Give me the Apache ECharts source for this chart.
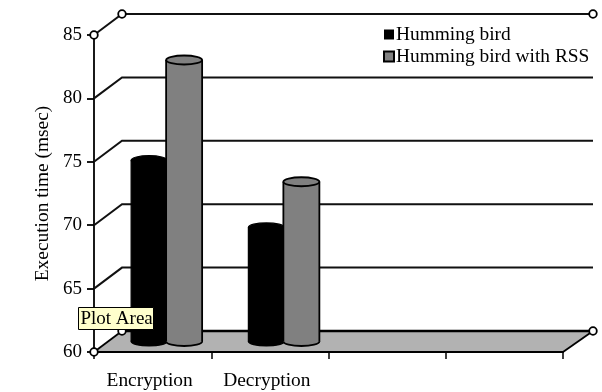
<!DOCTYPE html>
<html>
<head>
<meta charset="utf-8">
<style>html,body{margin:0;padding:0;background:#fff}#chart{width:602px;height:392px}</style>
<script src="https://cdn.jsdelivr.net/npm/echarts@6/dist/echarts.min.js"></script>
</head>
<body>
<div id="chart"></div>
<script>
// Execution times in milliseconds
const categories = ['Encryption', 'Decryption', '', ''];
const hummingBird = [74.3, 69];
const hummingBirdRss = [82.2, 72.6];
const wallLevels = [60, 65, 70, 75, 80, 85];
const ringLevels = [60, 85];

// Oblique projection of the chart box
const DEPTH_X = 28, DEPTH_Y = -21;
const SERIF = '"Liberation Serif", "Times New Roman", serif';
const INK = '#000';
const GREY = '#808080';
const FLOOR = '#b2b2b2';

const chart = echarts.init(document.getElementById('chart'));

// Cylinder standing half way into the depth of the box
function cylinder(side, fill, outline) {
  return function (params, api) {
    const idx = api.value(0);
    const top = api.coord([idx, api.value(1)]);
    const base = api.coord([idx, 60]);
    const cx = top[0] + DEPTH_X / 2 + side * 17.5;
    const yTop = top[1] + DEPTH_Y / 2;
    const yBase = base[1] + DEPTH_Y / 2;
    const rx = 18, ry = 4.5;
    const stroke = { stroke: INK, lineWidth: outline };
    return {
      type: 'group',
      children: [
        { type: 'ellipse', shape: { cx, cy: yBase, rx, ry }, style: { fill, ...stroke } },
        { type: 'rect', shape: { x: cx - rx, y: yTop, width: rx * 2, height: yBase - yTop }, style: { fill } },
        { type: 'line', shape: { x1: cx - rx, y1: yTop, x2: cx - rx, y2: yBase }, style: stroke },
        { type: 'line', shape: { x1: cx + rx, y1: yTop, x2: cx + rx, y2: yBase }, style: stroke },
        { type: 'ellipse', shape: { cx, cy: yTop, rx, ry }, style: { fill, ...stroke } }
      ]
    };
  };
}

// Side and back wall line for one axis level
function wallLine(params, api) {
  const y = api.coord([0, api.value(1)])[1];
  const x0 = params.coordSys.x;
  const x1 = x0 + params.coordSys.width;
  return {
    type: 'polyline',
    shape: { points: [[x0, y], [x0 + DEPTH_X, y + DEPTH_Y], [x1 + 30, y + DEPTH_Y]] },
    style: { fill: 'none', stroke: '#111', lineWidth: 2 }
  };
}

function floor(params, api) {
  const y = api.coord([0, api.value(1)])[1];
  const x0 = params.coordSys.x;
  const x1 = x0 + params.coordSys.width;
  return {
    type: 'group',
    children: [
      {
        type: 'polygon',
        shape: { points: [[x0, y], [x0 + DEPTH_X, y + DEPTH_Y], [x1 + 30, y + DEPTH_Y], [x1, y]] },
        style: { fill: FLOOR }
      },
      { type: 'line', shape: { x1: x0, y1: y, x2: x1, y2: y }, style: { stroke: INK, lineWidth: 1.8 } },
      { type: 'line', shape: { x1: x1, y1: y, x2: x1 + 30, y2: y + DEPTH_Y }, style: { stroke: INK, lineWidth: 1.8 } },
      { type: 'line', shape: { x1: x0, y1: y, x2: x0 + DEPTH_X, y2: y + DEPTH_Y }, style: { stroke: INK, lineWidth: 1.8 } },
      { type: 'line', shape: { x1: x0 + DEPTH_X, y1: y + DEPTH_Y, x2: x1 + 30, y2: y + DEPTH_Y }, style: { stroke: INK, lineWidth: 2.6 } }
    ]
  };
}

// Open circles on the corners of the box
function corners(params, api) {
  const y = api.coord([0, api.value(1)])[1];
  const x0 = params.coordSys.x;
  const x1 = x0 + params.coordSys.width;
  const ring = (cx, cy) => ({
    type: 'circle',
    shape: { cx, cy, r: 3.8 },
    style: { fill: '#fff', stroke: INK, lineWidth: 1.8 }
  });
  return {
    type: 'group',
    children: [ring(x0, y), ring(x0 + DEPTH_X, y + DEPTH_Y), ring(x1 + 30, y + DEPTH_Y)]
  };
}

const toPairs = arr => arr.map((v, i) => [i, v]);
const levelPairs = arr => arr.map(v => [0, v]);

chart.setOption({
  animation: false,
  backgroundColor: '#fff',
  textStyle: { fontFamily: SERIF },
  grid: { left: 94, right: 39, top: 35, bottom: 40 },
  legend: {
    left: 378,
    top: 20,
    orient: 'vertical',
    itemWidth: 10,
    itemHeight: 10,
    itemGap: 3,
    icon: 'rect',
    selectedMode: false,
    data: ['Humming bird', 'Humming bird with RSS'],
    textStyle: { fontFamily: SERIF, fontSize: 19.4, color: INK, padding: [0, 0, 0, -3] }
  },
  xAxis: {
    type: 'category',
    data: categories,
    axisLine: { lineStyle: { color: INK, width: 1.8 } },
    axisTick: { show: true, length: 7, lineStyle: { color: INK, width: 1.5 } },
    axisLabel: { interval: 0, color: INK, fontFamily: SERIF, fontSize: 19.4, margin: 19, padding: [0, 6, 0, 0] },
    splitLine: { show: false }
  },
  yAxis: {
    type: 'value',
    min: 60,
    max: 85,
    interval: 5,
    name: 'Execution time (msec)',
    nameLocation: 'middle',
    nameGap: 42,
    nameTextStyle: { color: INK, fontFamily: SERIF, fontSize: 19.4 },
    axisLine: { show: true, lineStyle: { color: INK, width: 1.8 } },
    axisTick: { show: true, length: 7, lineStyle: { color: INK, width: 1.8 } },
    axisLabel: { color: INK, fontFamily: SERIF, fontSize: 19, margin: 12 },
    splitLine: { show: false }
  },
  series: [
    { type: 'custom', name: 'wall', z: 1, silent: true, data: levelPairs(wallLevels.slice(1)), encode: { x: 0, y: 1 }, renderItem: wallLine },
    { type: 'custom', name: 'floor', z: 2, silent: true, data: levelPairs([wallLevels[0]]), encode: { x: 0, y: 1 }, renderItem: floor },
    { type: 'custom', name: 'Humming bird', z: 3, data: toPairs(hummingBird), encode: { x: 0, y: 1 }, itemStyle: { color: INK }, renderItem: cylinder(-1, INK, 1.2) },
    { type: 'custom', name: 'Humming bird with RSS', z: 4, data: toPairs(hummingBirdRss), encode: { x: 0, y: 1 }, itemStyle: { color: GREY, borderColor: INK, borderWidth: 1.8 }, renderItem: cylinder(1, GREY, 1.8) },
    { type: 'custom', name: 'corners', z: 5, silent: true, data: levelPairs(ringLevels), encode: { x: 0, y: 1 }, renderItem: corners }
  ],
  graphic: [
    {
      type: 'group',
      left: 78,
      top: 307,
      z: 100,
      zlevel: 1,
      children: [
        { type: 'rect', z: 100, zlevel: 1, shape: { x: 0, y: 0, width: 75, height: 22 }, style: { fill: '#ffffcc', stroke: INK, lineWidth: 1 } },
        { type: 'text', z: 101, zlevel: 1, x: 2, y: 2, style: { text: 'Plot Area', font: '19px ' + SERIF, fill: INK } }
      ]
    }
  ]
});
</script>
</body>
</html>
